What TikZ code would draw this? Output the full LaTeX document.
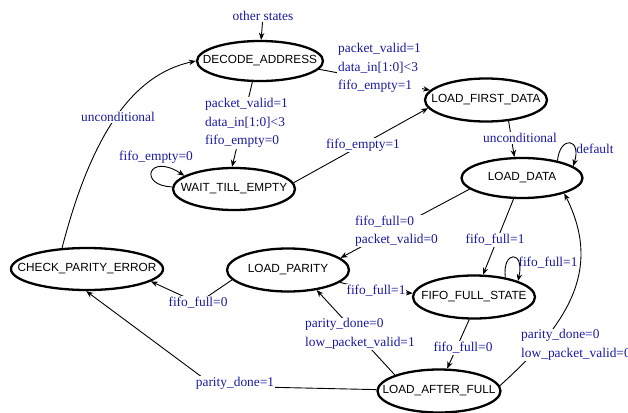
\documentclass[tikz,border=0pt]{standalone}
\usepackage{fontspec}
\setmainfont{Liberation Serif}
\newfontfamily\statefont{Liberation Sans}
\usetikzlibrary{arrows.meta,shapes.geometric,backgrounds}
\definecolor{lblue}{RGB}{25,25,160}
\begin{document}
\begin{tikzpicture}[x=1pt,y=-1pt,
  state/.style={ellipse, draw, line width=2.3pt, inner sep=0pt,
    font=\statefont\fontsize{11.8}{13}\selectfont},
  lbl/.style={text=lblue, font=\fontsize{13.4}{18.5}\selectfont, inner sep=1pt, align=left},
  elbl/.style={lbl, fill=white},
  edge/.style={line width=0.9pt, -{Stealth[length=7pt,width=5.5pt]}}]
\useasboundingbox (0,0) rectangle (628,412);
\clip (0,0) rectangle (628,412);

% states
\node[state, minimum width=126pt, minimum height=40pt] (DA)  at (260,61)  {\makebox[0pt]{DECODE\_ADDRESS}};
\node[state, minimum width=122pt, minimum height=43pt] (LFD) at (486,100) {\makebox[0pt]{LOAD\_FIRST\_DATA}};
\node[state, minimum width=121pt, minimum height=40pt] (LD)  at (522,178) {\makebox[0pt]{LOAD\_DATA}};
\node[state, minimum width=122pt, minimum height=42pt] (WTE) at (234,189) {\makebox[0pt]{WAIT\_TILL\_EMPTY}};
\node[state, minimum width=152pt, minimum height=42pt] (CPE) at (87,269)  {\makebox[0pt]{CHECK\_PARITY\_ERROR}};
\node[state, minimum width=122pt, minimum height=43pt] (LP)  at (288,270) {\makebox[0pt]{LOAD\_PARITY}};
\node[state, minimum width=122pt, minimum height=43pt] (FFS) at (474,297) {\makebox[0pt]{FIFO\_FULL\_STATE}};
\node[state, minimum width=123pt, minimum height=43pt] (LAF) at (439,391) {\makebox[0pt]{LOAD\_AFTER\_FULL}};

% labels
\node[lbl] (os) at (263,16) {other states};
\node[elbl, anchor=west] (l1) at (337,68) {packet\_valid=1\\data\_in[1:0]<3\\fifo\_empty=1};
\node[elbl, anchor=west] (l2) at (204,123) {packet\_valid=1\\data\_in[1:0]<3\\fifo\_empty=0};
\node[elbl] (l3) at (118,117) {unconditional};
\node[lbl]  (l4) at (156,157) {fifo\_empty=0};
\node[elbl] (l5) at (363,145) {fifo\_empty=1};
\node[elbl] (l6) at (520,138) {unconditional};
\node[lbl]  (l7) at (595,149) {default};
\node[elbl, anchor=west] (l8) at (354,231) {fifo\_full=0\\packet\_valid=0};
\node[elbl] (l9) at (495,240) {fifo\_full=1};
\node[lbl]  (l10) at (548,263) {fifo\_full=1};
\node[elbl] (l11) at (376,291) {fifo\_full=1};
\node[elbl] (l12) at (198,303) {fifo\_full=0};
\node[elbl, anchor=west] (l13) at (304,334) {parity\_done=0\\low\_packet\_valid=1};
\node[elbl] (l14) at (463,348) {fifo\_full=0};
\node[elbl, anchor=west] (l15) at (520,345) {parity\_done=0\\low\_packet\_valid=0};
\node[elbl] (l16) at (235,383) {parity\_done=1};
\coordinate (k16) at (214,386);

% connectors
\begin{pgfonlayer}{background}
\draw[edge] (os) -- (DA.87);
\draw[edge] (CPE.140) .. controls (90,140) and (130,75) .. (DA.west);
\draw[edge] (DA.-8) -- (LFD.170);
\draw[edge] (DA.-110) -- (WTE.95);
\draw[edge] (WTE.178) .. controls (138,186) and (148,152) .. (WTE.165);
\draw[edge] (WTE.6) -- (LFD.188);
\draw[edge] (LFD.-43) -- (LD.110);
\draw[edge] (LD.26) .. controls (560,135) and (582,138) .. (LD.13);
\draw[edge] (LD.192) -- (LP.13);
\draw[edge] (LD) -- (FFS);
\draw[edge] (FFS.32) .. controls (502,250) and (525,250) .. (FFS.20);
\draw[edge] (LP) -- (l11.center) -- (FFS);
\draw[edge] (LP.190) -- (l12.center) -- (CPE.-11);
\draw[edge] (LAF.160) -- (LP.-35);
\draw[edge] (FFS.-102) -- (LAF.70);
\draw[edge] (LAF.5) .. controls (575,318) and (600,265) .. (LD.-20);
\draw[edge] (LAF) -- (k16) -- (CPE.-92);
\end{pgfonlayer}
\end{tikzpicture}
\end{document}
